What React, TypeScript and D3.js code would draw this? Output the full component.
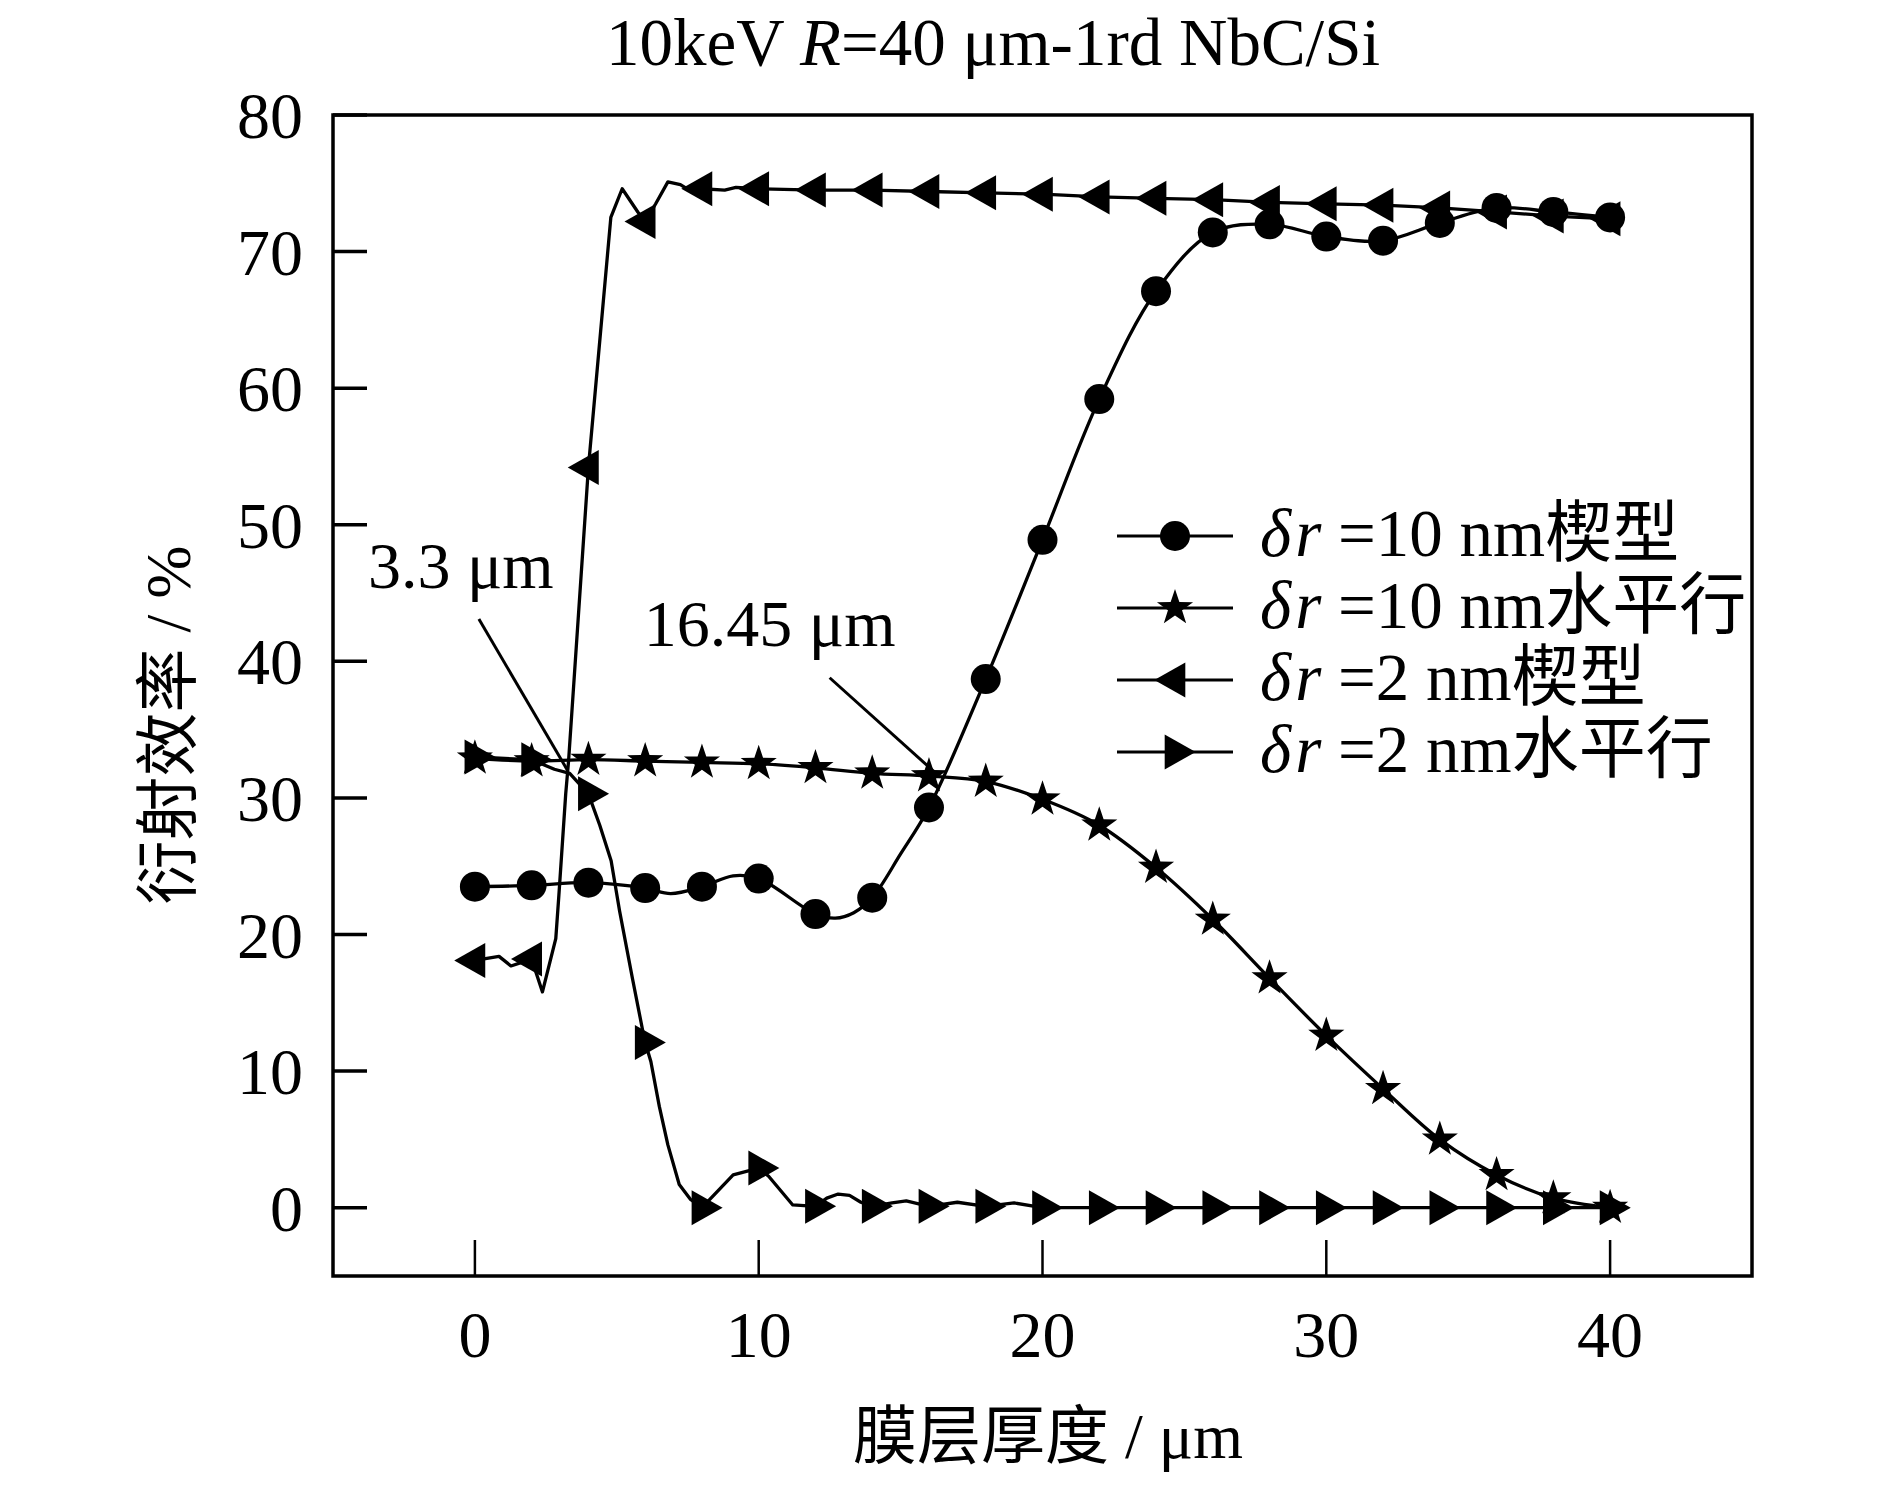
import React from 'react';
import * as d3 from 'd3';

// ---------- data ----------
const thickness = [0, 2, 4, 6, 8, 10, 12, 14, 16, 18, 20, 22, 24, 26, 28, 30, 32, 34, 36, 38, 40];

// δr = 10 nm wedge (circles)
const wedge10 = [23.5, 23.6, 23.8, 23.4, 23.5, 24.1, 21.5, 22.7, 29.3, 38.7, 48.9, 59.2, 67.1, 71.4, 72.0, 71.1, 70.8, 72.1, 73.2, 72.9, 72.5];
// δr = 10 nm flat (stars)
const flat10 = [32.9, 32.7, 32.8, 32.7, 32.6, 32.5, 32.2, 31.8, 31.6, 31.2, 29.9, 28.0, 24.9, 21.1, 16.8, 12.6, 8.7, 5.0, 2.4, 0.7, 0.0];
// δr = 2 nm wedge (left triangles)
const wedge2 = [18.1, 18.2, 54.2, 72.2, 74.6, 74.6, 74.5, 74.5, 74.4, 74.3, 74.2, 74.0, 73.9, 73.8, 73.6, 73.5, 73.4, 73.2, 72.9, 72.6, 72.4];
// δr = 2 nm flat (right triangles)
const flat2 = [33.0, 32.8, 30.3, 12.1, 0.0, 2.9, 0.1, 0.1, 0.1, 0.1, 0.0, 0.0, 0.0, 0.0, 0.0, 0.0, 0.0, 0.0, 0.0, 0.0, 0.0];

// extra points of the curves between markers
const wedge10Extra: [number, number][] = [[6.9, 23.0], [9.1, 24.3], [12.7, 21.2], [13.35, 21.6], [15, 25.9]];
const wedge2Extra: [number, number][] = [
  [0.85, 18.4], [1.27, 17.7], [2.38, 15.8], [2.85, 19.7], [2.96, 22.9], [3.2, 30.3], [3.3, 32.7],
  [4.79, 72.5], [5.19, 74.6], [5.74, 72.9], [6.37, 73.5], [6.8, 75.1], [7.24, 74.9], [7.63, 74.4],
  [8.8, 74.5], [9.2, 74.7],
];
const flat2Extra: [number, number][] = [
  [2.8, 32.1], [3.34, 31.8], [4.4, 28.0], [4.8, 25.4], [5.1, 21.7], [5.55, 16.8], [5.9, 13.1],
  [6.2, 10.7], [6.5, 7.4], [6.8, 4.6], [7.2, 1.7], [7.6, 0.6], [9.1, 2.4], [10.35, 2.3], [11.2, 0.2], [12.4, 0.7],
  [12.8, 1.0], [13.2, 0.9], [13.6, 0.4], [14.7, 0.35], [15.2, 0.5], [17, 0.4], [19, 0.35],
];

const xTicks = [0, 10, 20, 30, 40];
const yTicks = [0, 10, 20, 30, 40, 50, 60, 70, 80];

const legendLabels = ['=10 nm楔型', '=10 nm水平行', '=2 nm楔型', '=2 nm水平行'];

// annotations in data units
const annoLabels = ['3.3 μm', '16.45 μm'];
const annoText: [number, number][] = [[-3.77, 45.4], [5.95, 41.1]];
const annoLines: [number, number, number, number][] = [[0.14, 43.1, 3.27, 32.0], [12.5, 38.8, 16.16, 31.96]];

// ---------- layout ----------
const W = 1890;
const H = 1488;
const L = 333, R = 1752, T = 115, B = 1276;
const serif = "'Liberation Serif', 'Times New Roman', 'Noto Sans CJK SC', serif";
const cjk = "'Liberation Serif', 'Noto Sans CJK SC', serif";

const x = d3.scaleLinear().domain([-5, 45]).range([L, R]);
const y = d3.scaleLinear().domain([-5, 80]).range([B, T]);

function starPath(Ro: number, Ri: number) {
  const pts: string[] = [];
  for (let i = 0; i < 10; i++) {
    const a = -Math.PI / 2 + (i * Math.PI) / 5;
    const r = i % 2 === 0 ? Ro : Ri;
    pts.push(`${(r * Math.cos(a)).toFixed(2)},${(r * Math.sin(a)).toFixed(2)}`);
  }
  return 'M' + pts.join('L') + 'Z';
}
function triPath(dir: number, h: number, s: number) {
  const apex = (dir * 2 * h) / 3;
  const base = (-dir * h) / 3;
  return `M${apex},0L${base},${-s / 2}L${base},${s / 2}Z`;
}

const STAR = starPath(19, 7.4);
const TRI_L = triPath(-1, 31, 35);
const TRI_R = triPath(1, 31, 35);

function merge(vals: number[], extra: [number, number][]) {
  const pts: [number, number][] = thickness.map((t, i) => [t, vals[i]]);
  return pts.concat(extra).sort((a, b) => a[0] - b[0]);
}

const smooth = d3.line<[number, number]>().x(d => x(d[0])).y(d => y(d[1])).curve(d3.curveCatmullRom.alpha(0.5));
const straight = d3.line<[number, number]>().x(d => x(d[0])).y(d => y(d[1]));

type Kind = 'circle' | 'star' | 'triL' | 'triR';

function Marker({ kind, cx, cy }: { kind: Kind; cx: number; cy: number }) {
  if (kind === 'circle') return <circle cx={cx} cy={cy} r={15} fill="#000" />;
  const d = kind === 'star' ? STAR : kind === 'triL' ? TRI_L : TRI_R;
  return <path d={d} transform={`translate(${cx},${cy})`} fill="#000" />;
}

const series: { vals: number[]; kind: Kind; path: string }[] = [
  { vals: wedge10, kind: 'circle', path: smooth(merge(wedge10, wedge10Extra)) as string },
  { vals: flat10, kind: 'star', path: smooth(merge(flat10, [])) as string },
  { vals: wedge2, kind: 'triL', path: straight(merge(wedge2, wedge2Extra)) as string },
  { vals: flat2, kind: 'triR', path: straight(merge(flat2, flat2Extra)) as string },
];

export default function App() {
  const legendRows = [536, 608, 680, 752];
  return (
    <svg width={W} height={H} style={{ position: 'absolute', left: 0, top: 0, background: '#fff' }}>
      <rect x={0} y={0} width={W} height={H} fill="#fff" />
      <text x={993} y={65} textAnchor="middle" fontFamily={serif} fontSize={67}>
        10keV <tspan fontStyle="italic">R</tspan>=40 μm-1rd NbC/Si
      </text>

      {series.map((s, i) => (
        <path key={'l' + i} d={s.path} fill="none" stroke="#000" strokeWidth={3.3} strokeLinejoin="round" />
      ))}
      {series.map((s, i) => (
        <g key={'m' + i}>
          {s.vals.map((v, j) => (
            <Marker key={j} kind={s.kind} cx={x(thickness[j])} cy={y(v)} />
          ))}
        </g>
      ))}

      <rect x={L} y={T} width={R - L} height={B - T} fill="none" stroke="#000" strokeWidth={3.5} />

      {yTicks.map(t => (
        <g key={'y' + t}>
          <line x1={L} x2={L + 34} y1={y(t)} y2={y(t)} stroke="#000" strokeWidth={3.5} />
          <text x={303} y={y(t) + 23} textAnchor="end" fontFamily={serif} fontSize={66}>{t}</text>
        </g>
      ))}
      {xTicks.map(t => (
        <g key={'x' + t}>
          <line x1={x(t)} x2={x(t)} y1={B} y2={B - 36} stroke="#000" strokeWidth={2.5} />
          <text x={x(t)} y={1357} textAnchor="middle" fontFamily={serif} fontSize={66}>{t}</text>
        </g>
      ))}

      <text x={1048} y={1458} textAnchor="middle" fontFamily={cjk} fontSize={64}>膜层厚度 / μm</text>
      <text transform={`translate(190,725) rotate(-90)`} textAnchor="middle" fontFamily={cjk} fontSize={64}>衍射效率 / %</text>

      {annoLines.map((a, i) => (
        <line key={'al' + i} x1={x(a[0])} y1={y(a[1])} x2={x(a[2])} y2={y(a[3])} stroke="#000" strokeWidth={3} />
      ))}
      {annoLabels.map((s, i) => (
        <text key={'at' + i} x={x(annoText[i][0])} y={y(annoText[i][1])} fontFamily={serif} fontSize={66}>{s}</text>
      ))}

      {series.map((s, i) => (
        <g key={'lg' + i}>
          <line x1={1117} x2={1233} y1={legendRows[i]} y2={legendRows[i]} stroke="#000" strokeWidth={3} />
          <Marker kind={s.kind} cx={1175} cy={legendRows[i]} />
          <text x={1260} y={legendRows[i] + 20} fontFamily={cjk} fontSize={67}>
            <tspan fontStyle="italic">δ</tspan>
            <tspan fontStyle="italic" dx={4}>r</tspan>
            <tspan> {legendLabels[i]}</tspan>
          </text>
        </g>
      ))}
    </svg>
  );
}
